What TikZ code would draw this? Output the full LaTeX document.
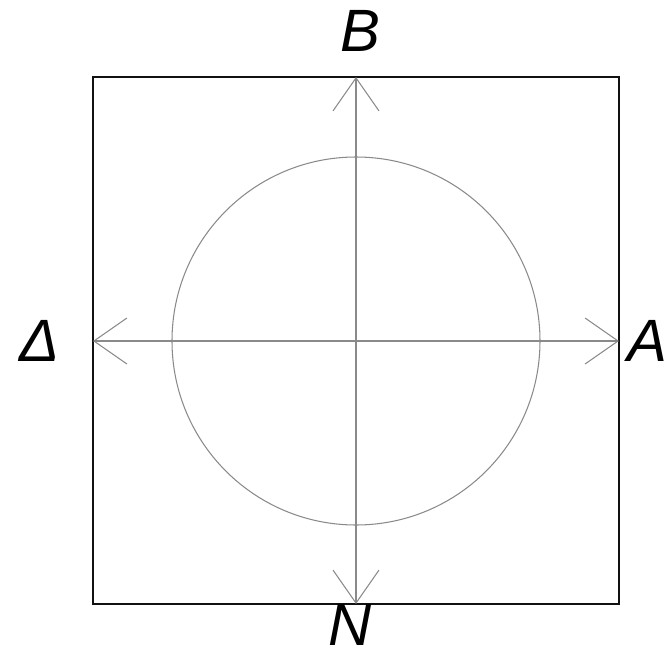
\documentclass[tikz,border=0pt]{standalone}
\usepackage{fontspec}
\setmainfont{Liberation Sans}
\usetikzlibrary{arrows.meta,positioning}
\definecolor{cmpink}{HTML}{111111}
\definecolor{cmpaxis}{HTML}{8A8A8A}
\tikzset{
  cmpframe/.style={draw=cmpink, line width=0.6pt},
  cmpaxis/.style={draw=cmpaxis, line width=0.6pt,
    {Straight Barb[length=0.66cm,width=0.92cm]}-{Straight Barb[length=0.66cm,width=0.92cm]}},
  cmpring/.style={draw=cmpaxis, line width=0.6pt},
  cmplbl/.style={font=\fontsize{34}{40}\selectfont\itshape, text=black, inner sep=0pt},
}
\begin{document}
\begin{tikzpicture}[x=0.02cm, y=-0.02cm]
  \useasboundingbox (0,0) rectangle (664,656);
  % frame and compass points
  \coordinate (c) at (356,341);
  \coordinate (north) at (356,77);
  \coordinate (south) at (356,604);
  \coordinate (west) at (93,341);
  \coordinate (east) at (619,341);
  \draw[cmpframe] (93,77) rectangle (619,604);
  \draw[cmpring] (c) circle (184);
  \draw[cmpaxis] (west) -- (east);
  \draw[cmpaxis] (south) -- (north);
  % labels
  \node[cmplbl] (lblB) at (360,31) {B};
  \node[cmplbl] (lblN) at (350,625) {N};
  \node[cmplbl] (lblD) at (40,341) {Δ};
  \node[cmplbl, anchor=west] (lblA) at (627,341) {A};
\end{tikzpicture}
\end{document}
